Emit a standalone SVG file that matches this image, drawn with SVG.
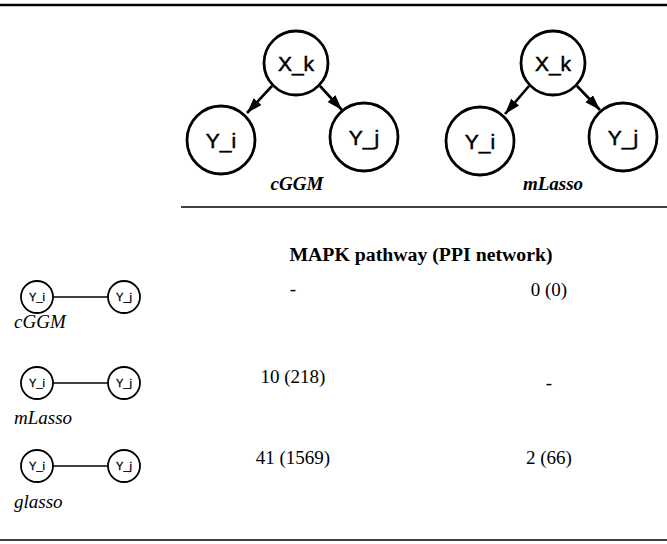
<svg xmlns="http://www.w3.org/2000/svg" width="667" height="544" viewBox="0 0 667 544">
<defs>
<style>
.node circle{fill:#fff;stroke:#000;stroke-width:2.8}
.node text{font-family:"Liberation Sans",Arial,sans-serif;font-size:21px;text-anchor:middle;dominant-baseline:central;stroke:#000;stroke-width:0.5}
.small circle{fill:#fff;stroke:#000;stroke-width:1.8}
.small text{font-family:"Liberation Sans",Arial,sans-serif;font-size:11px;text-anchor:middle;dominant-baseline:central;stroke:#000;stroke-width:0.3}
.edge{stroke:#000;stroke-width:2.6;fill:none}
.sedge{stroke:#000;stroke-width:1.5;fill:none}
.rule{stroke:#000}
.t{font-family:"Liberation Serif","Times New Roman",serif;font-size:19px}
.c{text-anchor:middle}
.bi{font-weight:bold;font-style:italic}
.i{font-style:italic}
.b{font-weight:bold}
</style>
<marker id="ah" viewBox="0 0 12 10" refX="12" refY="5" markerWidth="6" markerHeight="5" orient="auto" markerUnits="strokeWidth">
<path d="M0,1 L12,5 L0,9 z" fill="#000"/>
</marker>
</defs>
<rect width="667" height="544" fill="#fff"/>
<g id="rules">
<line class="rule" x1="0" y1="5" x2="667" y2="5" stroke-width="2.4"/>
<line class="rule" x1="181" y1="207" x2="667" y2="207" stroke-width="1.5"/>
<line class="rule" x1="0" y1="540" x2="667" y2="540" stroke-width="1.5"/>
</g>
<g id="connectors">
<line class="edge" x1="272" y1="86" x2="247" y2="113" marker-end="url(#ah)"/>
<line class="edge" x1="320" y1="86" x2="342" y2="110" marker-end="url(#ah)"/>
<line class="edge" x1="529" y1="86" x2="505" y2="114" marker-end="url(#ah)"/>
<line class="edge" x1="577" y1="86" x2="600" y2="110" marker-end="url(#ah)"/>
<line class="sedge" x1="53" y1="297" x2="108" y2="297"/>
<line class="sedge" x1="53" y1="383" x2="108" y2="383"/>
<line class="sedge" x1="53" y1="466" x2="108" y2="466"/>
</g>
<g id="cggm-xk" class="node"><circle cx="296" cy="63" r="32"/><text x="296" y="63">X_k</text></g>
<g id="cggm-yi" class="node"><circle cx="221" cy="140" r="34"/><text x="221" y="140">Y_i</text></g>
<g id="cggm-yj" class="node"><circle cx="364" cy="137" r="34"/><text x="364" y="137">Y_j</text></g>
<g id="mlasso-xk" class="node"><circle cx="553" cy="63" r="32"/><text x="553" y="63">X_k</text></g>
<g id="mlasso-yi" class="node"><circle cx="480" cy="141" r="34"/><text x="480" y="141">Y_i</text></g>
<g id="mlasso-yj" class="node"><circle cx="623" cy="137" r="34"/><text x="623" y="137">Y_j</text></g>
<text class="t bi c" x="297" y="190">cGGM</text>
<text class="t bi c" x="553" y="190">mLasso</text>
<text class="t b c" x="421" y="261" style="font-size:19.8px">MAPK pathway (PPI network)</text>
<g id="row1-yi" class="small node"><circle cx="37" cy="297" r="16"/><text x="37" y="297">Y_i</text></g>
<g id="row1-yj" class="small node"><circle cx="124" cy="297" r="16"/><text x="124" y="297">Y_j</text></g>
<text class="t i" x="14" y="328">cGGM</text>
<g id="row2-yi" class="small node"><circle cx="37" cy="383" r="16"/><text x="37" y="383">Y_i</text></g>
<g id="row2-yj" class="small node"><circle cx="124" cy="383" r="16"/><text x="124" y="383">Y_j</text></g>
<text class="t i" x="14" y="424">mLasso</text>
<g id="row3-yi" class="small node"><circle cx="37" cy="466" r="16"/><text x="37" y="466">Y_i</text></g>
<g id="row3-yj" class="small node"><circle cx="124" cy="466" r="16"/><text x="124" y="466">Y_j</text></g>
<text class="t i" x="14" y="508">glasso</text>
<text class="t c" x="293" y="295">-</text>
<text class="t c" x="549" y="296">0 (0)</text>
<text class="t c" x="293" y="383">10 (218)</text>
<text class="t c" x="549" y="389">-</text>
<text class="t c" x="293" y="464">41 (1569)</text>
<text class="t c" x="549" y="464">2 (66)</text>
</svg>
